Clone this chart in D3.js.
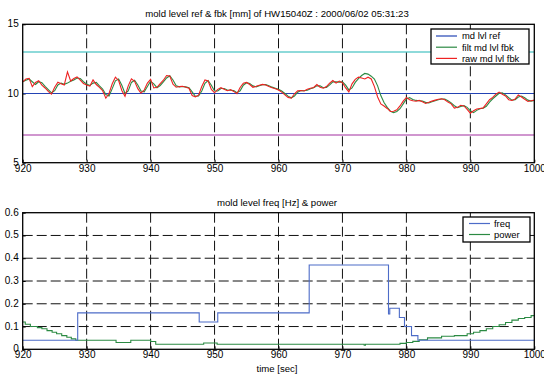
<!DOCTYPE html>
<html>
<head>
<meta charset="utf-8">
<script src="https://cdn.jsdelivr.net/npm/d3@7/dist/d3.min.js"></script>
<style>
  body { margin: 0; background: #fff; }
  text { font-family: "Liberation Sans", Arial, sans-serif; fill: #000; }
</style>
</head>
<body>
<div id="chart"></div>
<script>
const width = 544;
const height = 376;

// sample times start at 920 s, every 0.5 s
const t0 = 920;
const dt = 0.5;

// raw mold level feedback [mm]
const rawLevel = [
  10.84, 11.05, 11.10, 10.50, 10.80, 10.92, 10.60, 10.40, 10.15, 9.95,
  10.45, 10.82, 10.70, 10.62, 11.56, 10.90, 11.08, 11.20, 10.96, 10.72,
  10.62, 10.53, 10.98, 10.65, 10.45, 10.20, 9.66, 10.00, 10.70, 11.18,
  10.94, 10.22, 9.80, 10.55, 11.06, 10.88, 10.35, 10.02, 10.25, 10.75,
  11.02, 10.40, 10.45, 10.72, 10.96, 11.30, 11.26, 10.68, 10.45, 10.50,
  10.52, 10.45, 10.38, 9.85, 9.76, 9.88, 10.50, 10.98, 10.90, 10.30,
  10.05, 10.30, 10.42, 10.30, 10.20, 10.28, 10.15, 9.98, 10.43, 10.75,
  10.80, 10.65, 10.45, 10.52, 10.60, 10.66, 10.62, 10.50, 10.42, 10.35,
  10.25, 10.10, 9.90, 9.72, 9.66, 9.98, 10.20, 10.22, 10.18, 10.30,
  10.38, 10.44, 10.65, 10.45, 10.38, 10.50, 10.75, 10.94, 10.75, 10.90,
  10.78, 10.40, 10.12, 10.70, 11.02, 11.18, 11.12, 11.05, 11.18, 11.05,
  10.50, 9.75, 9.25, 9.10, 8.92, 8.70, 8.72, 8.82, 9.10, 9.45,
  9.72, 9.55, 9.48, 9.44, 9.50, 9.40, 9.28, 9.36, 9.45, 9.52,
  9.58, 9.62, 9.55, 9.38, 9.25, 8.95, 9.00, 9.15, 9.10, 8.85,
  8.58, 8.75, 8.88, 8.92, 8.96, 9.25, 9.55, 9.72, 9.95, 10.10,
  9.95, 9.82, 9.55, 9.50, 9.60, 9.90, 9.75, 9.58, 9.42, 9.48,
  9.52
];

// filtered mold level feedback [mm]
const filtLevel = [
  10.84, 10.95, 11.05, 10.85, 10.65, 10.85, 10.78, 10.52, 10.28, 10.05,
  10.20, 10.62, 10.75, 10.66, 10.75, 10.88, 10.98, 11.12, 11.08, 10.85,
  10.68, 10.58, 10.75, 10.80, 10.55, 10.32, 9.92, 9.82, 10.35, 10.92,
  11.05, 10.60, 10.00, 10.18, 10.80, 10.96, 10.62, 10.18, 10.12, 10.50,
  10.88, 10.70, 10.42, 10.58, 10.84, 11.12, 11.28, 10.98, 10.56, 10.48,
  10.51, 10.48, 10.42, 10.12, 9.80, 9.82, 10.18, 10.74, 10.94, 10.60,
  10.18, 10.18, 10.36, 10.36, 10.25, 10.24, 10.22, 10.06, 10.20, 10.60,
  10.78, 10.72, 10.55, 10.48, 10.56, 10.63, 10.64, 10.56, 10.46, 10.38,
  10.30, 10.18, 10.00, 9.81, 9.69, 9.82, 10.09, 10.21, 10.20, 10.24,
  10.34, 10.41, 10.55, 10.55, 10.42, 10.44, 10.62, 10.85, 10.84, 10.82,
  10.84, 10.60, 10.26, 10.40, 10.80, 11.08, 11.30, 11.45, 11.40, 11.25,
  11.05, 10.55, 9.85, 9.35, 9.00, 8.72, 8.62, 8.70, 8.90, 9.25,
  9.60, 9.70, 9.56, 9.50, 9.48, 9.46, 9.36, 9.32, 9.40, 9.48,
  9.55, 9.60, 9.60, 9.48, 9.32, 9.12, 8.98, 9.06, 9.12, 9.00,
  8.75, 8.62, 8.78, 8.90, 8.94, 9.08, 9.38, 9.62, 9.82, 10.02,
  10.05, 9.90, 9.70, 9.52, 9.55, 9.75, 9.82, 9.70, 9.52, 9.45,
  9.50
];

// horizontal levels in the top plot: ref, upper and lower limit
const levelNames = ['md lvl ref', 'upper', 'lower'];
const levelValues = [10, 13, 7];
const levelColors = ['#2343b4', '#1fb5b5', '#a12fa0'];

// mold level control frequency [Hz], step changes
const freqTimes = [920, 928.6, 947.6, 950.5, 964.8, 977.2, 977.4, 978.9, 979.7, 980.8, 981.8, 1000];
const freqValues = [0.04, 0.16, 0.12, 0.16, 0.37, 0.155, 0.18, 0.14, 0.10, 0.06, 0.04, 0.04];

// power, step changes
const powerTimes = [920, 920.4, 921.2, 922.3, 923.0, 923.8, 924.6, 925.3, 926.1, 926.9, 927.6, 928.3,
  934.6, 936.9, 940.0, 940.8, 948.3, 950.4, 973.4, 973.6, 979.0, 980.0, 981.0, 982.0, 983.3,
  985.5, 987.5, 989.5, 990.5, 991.5, 992.5, 993.5, 994.5, 995.5, 996.5, 997.5, 998.5, 999.5, 1000];
const powerValues = [0.12, 0.11, 0.10, 0.095, 0.09, 0.082, 0.075, 0.068, 0.06, 0.053, 0.046, 0.04,
  0.03, 0.04, 0.034, 0.022, 0.028, 0.022, 0.018, 0.022, 0.026, 0.03, 0.035, 0.042, 0.05,
  0.057, 0.06, 0.068, 0.075, 0.082, 0.09, 0.10, 0.108, 0.118, 0.128, 0.135, 0.14, 0.148, 0.148];

const xTicks = [920, 930, 940, 950, 960, 970, 980, 990, 1000];
const topYTicks = [5, 10, 15];
const botYTicks = [0, 0.1, 0.2, 0.3, 0.4, 0.5, 0.6];

const svg = d3.select('#chart').append('svg')
  .attr('width', width)
  .attr('height', height);

const left = 22.7, right = 534.3;

//scales
const x = d3.scaleLinear().domain([920, 1000]).range([left, right]);
const yTop = d3.scaleLinear().domain([5, 15]).range([162.7, 24.3]);
const yBot = d3.scaleLinear().domain([0, 0.6]).range([349.3, 212.7]);

const raw = rawLevel.map((v, i) => ({t: t0 + i * dt, v: v}));
const filt = filtLevel.map((v, i) => ({t: t0 + i * dt, v: v}));
const freq = freqTimes.map((t, i) => ({t: t, v: freqValues[i]}));
const power = powerTimes.map((t, i) => ({t: t, v: powerValues[i]}));

function panel(y, yTicks, fmt, hGrid) {
  const g = svg.append('g');
  const [y0, y1] = y.range();
  g.append('rect')
    .attr('x', left).attr('y', y1)
    .attr('width', right - left).attr('height', y0 - y1)
    .attr('fill', '#fff');

  //vertical dashed grid
  g.selectAll('.vgrid').data(xTicks.slice(1, -1)).enter().append('line')
    .attr('x1', d => x(d)).attr('x2', d => x(d))
    .attr('y1', y1).attr('y2', y0)
    .attr('stroke', '#111').attr('stroke-width', 1)
    .attr('stroke-dasharray', '10,4');
  if (hGrid) {
    g.selectAll('.hgrid').data(yTicks.slice(1, -1)).enter().append('line')
      .attr('x1', left).attr('x2', right)
      .attr('y1', d => y(d)).attr('y2', d => y(d))
      .attr('stroke', '#111').attr('stroke-width', 1)
      .attr('stroke-dasharray', '10,4');
  }

  const xAxis = g.append('g')
    .attr('transform', 'translate(0,' + y0 + ')')
    .call(d3.axisBottom(x).tickValues(xTicks).tickFormat(d3.format('d'))
      .tickSizeInner(-3).tickSizeOuter(0).tickPadding(2));
  xAxis.select('.domain').remove();
  xAxis.selectAll('text').attr('font-size', 10);

  const yAxis = g.append('g')
    .attr('transform', 'translate(' + left + ',0)')
    .call(d3.axisLeft(y).tickValues(yTicks).tickFormat(fmt)
      .tickSizeInner(-3).tickSizeOuter(0).tickPadding(4));
  yAxis.select('.domain').remove();
  yAxis.selectAll('text').attr('font-size', 10).attr('dy', '0.25em');

  return g;
}

function frame(y) {
  const [y0, y1] = y.range();
  svg.append('rect')
    .attr('x', left).attr('y', y1)
    .attr('width', right - left).attr('height', y0 - y1)
    .attr('fill', 'none').attr('stroke', '#000').attr('stroke-width', 1.3);
}

// ---- top plot
panel(yTop, topYTicks, d3.format('d'), false);

svg.selectAll('.level').data(levelValues).enter().append('line')
  .attr('x1', left).attr('x2', right)
  .attr('y1', d => yTop(d)).attr('y2', d => yTop(d))
  .attr('stroke', (d, i) => levelColors[i]).attr('stroke-width', 1.2);

const lineTop = d3.line().x(d => x(d.t)).y(d => yTop(d.v));
svg.append('path').datum(filt)
  .attr('d', lineTop).attr('fill', 'none')
  .attr('stroke', '#2b8a43').attr('stroke-width', 1.1);
svg.append('path').datum(raw)
  .attr('d', lineTop).attr('fill', 'none')
  .attr('stroke', '#ee2222').attr('stroke-width', 1.1);

frame(yTop);

svg.append('text')
  .attr('x', 277).attr('y', 17)
  .attr('text-anchor', 'middle').attr('font-size', 9.6)
  .text('mold level ref & fbk [mm] of HW15040Z : 2000/06/02 05:31:23');

//legend top
const legTop = svg.append('g');
legTop.append('rect')
  .attr('x', 431).attr('y', 29).attr('width', 98).attr('height', 35)
  .attr('fill', '#fff').attr('stroke', '#000').attr('stroke-width', 1.3);
const legTopItems = [['md lvl ref', levelColors[0]], ['filt md lvl fbk', '#2b8a43'], ['raw md lvl fbk', '#ee2222']];
legTopItems.forEach((d, i) => {
  const yy = 36 + i * 11.2;
  legTop.append('line').attr('x1', 436).attr('x2', 457).attr('y1', yy).attr('y2', yy)
    .attr('stroke', d[1]).attr('stroke-width', 1.2);
  legTop.append('text').attr('x', 462).attr('y', yy + 3.3).attr('font-size', 9.4).text(d[0]);
});

// ---- bottom plot
panel(yBot, botYTicks, d3.format('~g'), true);

const lineBot = d3.line().x(d => x(d.t)).y(d => yBot(d.v)).curve(d3.curveStepAfter);
svg.append('path').datum(power)
  .attr('d', lineBot).attr('fill', 'none')
  .attr('stroke', '#2b8a43').attr('stroke-width', 1.1);
svg.append('path').datum(freq)
  .attr('d', lineBot).attr('fill', 'none')
  .attr('stroke', '#4d6cc8').attr('stroke-width', 1.1);

frame(yBot);

svg.append('text')
  .attr('x', 277).attr('y', 206)
  .attr('text-anchor', 'middle').attr('font-size', 9.6)
  .text('mold level freq [Hz] & power');

svg.append('text')
  .attr('x', 277).attr('y', 372)
  .attr('text-anchor', 'middle').attr('font-size', 9.6)
  .text('time [sec]');

const legBot = svg.append('g');
legBot.append('rect')
  .attr('x', 463).attr('y', 217).attr('width', 67).attr('height', 25)
  .attr('fill', '#fff').attr('stroke', '#000').attr('stroke-width', 1.3);
const legBotItems = [['freq', '#4d6cc8'], ['power', '#2b8a43']];
legBotItems.forEach((d, i) => {
  const yy = 223.5 + i * 11;
  legBot.append('line').attr('x1', 469).attr('x2', 490).attr('y1', yy).attr('y2', yy)
    .attr('stroke', d[1]).attr('stroke-width', 1.2);
  legBot.append('text').attr('x', 494).attr('y', yy + 3.3).attr('font-size', 9.4).text(d[0]);
});
</script>
</body>
</html>
